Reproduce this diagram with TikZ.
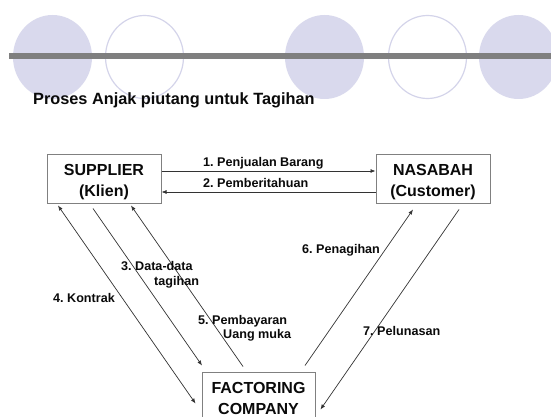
\documentclass[tikz,border=0pt]{standalone}
\usepackage{fontspec}
\setmainfont{Liberation Sans}
\usetikzlibrary{arrows.meta,calc}
\definecolor{lav}{HTML}{D9D9ED}
\definecolor{lavline}{HTML}{D4D4EA}
\definecolor{bargray}{HTML}{7F7F7F}
\definecolor{boxgray}{HTML}{808080}
\definecolor{linegray}{HTML}{333333}
\definecolor{txt}{HTML}{0A0A0A}
\frenchspacing
\begin{document}
\begin{tikzpicture}[x=1pt,y=-1pt,
  box/.style={draw=boxgray, line width=1pt, minimum width=114pt, minimum height=49pt,
    inner sep=0pt, align=center, font=\fontsize{16}{20.5}\selectfont\bfseries, text=txt},
  lbl/.style={anchor=base west, inner sep=0pt, font=\fontsize{12.6}{14.5}\selectfont\bfseries, text=txt},
  conn/.style={draw=linegray, line width=0.7pt},
  tip/.style={-{Latex[length=5pt,width=4pt]}},
  dtip/.style={{Latex[length=5pt,width=4pt]}-{Latex[length=5pt,width=4pt]}},
  dot/.style={fill=lav},
  ring/.style={draw=lavline, line width=1.2pt}
]
\useasboundingbox (0,0) rectangle (551,417);
\clip (0,0) rectangle (551,417);
\fill[white] (0,0) rectangle (551,417);

% decorative circles and bar
\path[dot] (52.5,57) ellipse [x radius=39.5pt, y radius=42pt];
\path[ring] (144.5,57) ellipse [x radius=39pt, y radius=41.5pt];
\path[dot] (324.5,57) ellipse [x radius=39.5pt, y radius=42pt];
\path[ring] (427.5,57) ellipse [x radius=39pt, y radius=41.5pt];
\path[dot] (518.5,57) ellipse [x radius=39.5pt, y radius=42pt];
\fill[bargray] (9,53) rectangle (551,59);

% title
\node[anchor=base west, inner sep=0pt, font=\fontsize{16.3}{19}\selectfont\bfseries, text=txt]
  (title) at (33,105) {Proses Anjak piutang untuk Tagihan};

% boxes
\node[box] (sup) at (104,178.5) {\rule{0pt}{18pt}SUPPLIER\\(Klien)};
\node[box] (nas) at (433,178.5) {\rule{0pt}{18pt}NASABAH\\(Customer)};
\node[box, minimum width=113pt] (fac) at (258.5,396.5) {\rule{0pt}{18pt}FACTORING\\COMPANY\vphantom{(}};

% connectors
\draw[conn,tip] ($(sup.east)+(0,-7.5)$) -- ($(nas.west)+(0,-7.5)$);
\draw[conn,tip] ($(nas.west)+(0,13.5)$) -- ($(sup.east)+(0,13.5)$);
\draw[conn,tip] ($(sup.south)+(-11,5)$) -- ($(fac.north)+(-56.5,-6)$);
\draw[conn,dtip] ($(sup.south)+(-46,2)$) -- ($(fac.north west)+(-6,32)$);
\draw[conn,tip] ($(fac.north)+(-15.5,-5)$) -- ($(sup.south)+(27,2)$);
\draw[conn,tip] ($(fac.north)+(46.5,-6)$) -- ($(nas.south)+(-20,6)$);
\draw[conn,tip] ($(nas.south)+(26,6)$) -- ($(fac.north east)+(5,38)$);

% labels
\node[lbl] (l1) at (203,166) {1. Penjualan Barang};
\node[lbl] (l2) at (203,187) {2. Pemberitahuan};
\node[lbl] (l3a) at (121,270) {3. Data-data};
\node[lbl] (l3b) at (154,285) {tagihan};
\node[lbl] (l4) at (53,302) {4. Kontrak};
\node[lbl] (l5a) at (198,324) {5. Pembayaran};
\node[lbl] (l5b) at (223,338) {Uang muka};
\node[lbl] (l6) at (302,253) {6. Penagihan};
\node[lbl] (l7) at (363,335) {7. Pelunasan};
\end{tikzpicture}
\end{document}
